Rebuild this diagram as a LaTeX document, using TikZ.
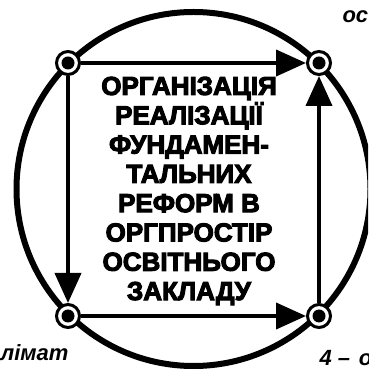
\documentclass[tikz,border=0pt]{standalone}
\usepackage{fontspec}
\usepackage{tikz}
\usetikzlibrary{arrows.meta}
\setmainfont{Liberation Sans}
\newfontfamily\blackfont{Liberation Sans}[FakeBold=4]

\tikzset{
  dot/.style={circle,draw,line width=3pt,fill=white,minimum size=23pt,inner sep=0pt,
    path picture={\fill[black] (path picture bounding box.center) circle (6.5pt);}},
  flow/.style={line width=4pt,-{Triangle[length=30pt,width=26pt]}},
  side/.style={font=\fontsize{22}{24}\selectfont\bfseries\itshape}
}

\begin{document}
\begin{tikzpicture}[x=1pt,y=1pt]
        \clip (0,0) rectangle (368,374);
        \draw[line width=6pt] (193.5,185) circle (177);
        \node[dot] (tl) at (68,311) {};
        \node[dot] (tr) at (319,311) {};
        \node[dot] (bl) at (68,58) {};
        \node[dot] (br) at (319,58) {};
        \draw[flow] (tl) -- (tr);
        \draw[flow] (tl) -- (bl);
        \draw[flow] (bl) -- (br);
        \draw[flow] (br) -- (tr);
        \node[align=center,font=\blackfont\bfseries\fontsize{26}{29.3}\selectfont] (title) at (189,183)
          {ОРГАНІЗАЦІЯ\\РЕАЛІЗАЦІЇ\\ФУНДАМЕН-\\ТАЛЬНИХ\\РЕФОРМ В\\ОРГПРОСТІР\\ОСВІТНЬОГО\\ЗАКЛАДУ};
        \node[side,anchor=base west] (os) at (339,351) {ос};
        \node[side,anchor=base east] (klimat) at (72,13) {лімат};
        \node[side,anchor=base west] (four) at (316,9) {4 –\hspace{0.4em}о};
      \end{tikzpicture}
\end{document}
